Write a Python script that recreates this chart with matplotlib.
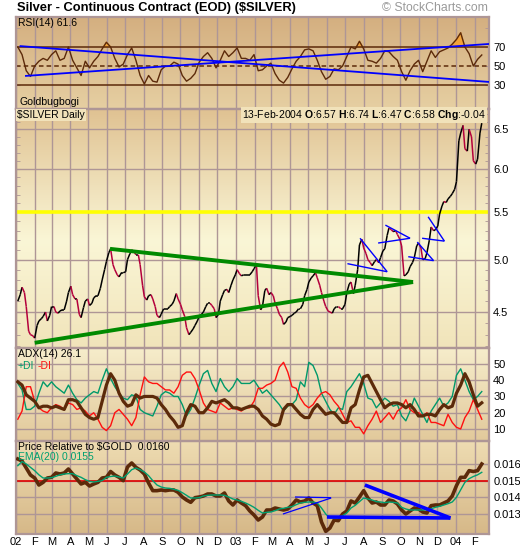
#!/usr/bin/env python3
"""Silver continuous contract chart with RSI, ADX and price relative to gold."""

import matplotlib
matplotlib.use("Agg")

import matplotlib.pyplot as plt
import matplotlib.dates as mdates
import numpy as np
import pandas as pd
from matplotlib.collections import LineCollection
from matplotlib.colors import LinearSegmentedColormap
from matplotlib.ticker import FixedLocator, NullFormatter

plt.rcParams["font.family"] = ["Liberation Sans", "DejaVu Sans"]
plt.rcParams["mathtext.fontset"] = "custom"
plt.rcParams["mathtext.rm"] = "Liberation Sans"
plt.rcParams["mathtext.bf"] = "Liberation Sans:bold"

# values: Fridays 4 Jan 2002 .. 13 Feb 2004,
# the price also on the Tuesdays in between
weeks = pd.date_range("2002-01-04", periods=111, freq="7D")
tuesdays = pd.date_range("2002-01-08", periods=110, freq="7D")

price_fri = [
    4.60, 4.73, 4.55, 4.30, 4.27, 4.42, 4.46, 4.42, 4.55, 4.50,
    4.51, 4.52, 4.68, 4.66, 4.62, 4.45, 4.60, 4.56, 4.63, 4.65,
    4.80, 4.98, 5.11, 4.90, 4.83, 4.87, 5.00, 5.10, 5.05, 4.95,
    4.64, 4.65, 4.62, 4.47, 4.48, 4.53, 4.55, 4.60, 4.62, 4.52,
    4.36, 4.32, 4.38, 4.46, 4.50, 4.58, 4.56, 4.45, 4.60, 4.70,
    4.68, 4.80, 4.90, 4.84, 4.85, 4.85, 4.91, 4.65, 4.55, 4.72,
    4.68, 4.58, 4.48, 4.39, 4.45, 4.47, 4.50, 4.53, 4.65, 4.78,
    4.84, 4.82, 4.68, 4.55, 4.50, 4.53, 4.55, 4.53, 4.68, 4.78,
    4.75, 5.15, 5.12, 5.00, 4.94, 5.00, 5.02, 5.11, 5.33, 5.29,
    5.26, 5.14, 4.85, 4.93, 5.02, 5.17, 5.00, 5.07, 5.34, 5.31,
    5.48, 5.62, 5.65, 5.71, 5.85, 6.45, 6.25, 6.50, 6.10, 6.12, 6.58,
]

price_tue = [
    4.66, 4.68, 4.33, 4.29, 4.38, 4.44, 4.50, 4.47, 4.55, 4.49,
    4.52, 4.60, 4.74, 4.62, 4.48, 4.54, 4.62, 4.58, 4.65, 4.72,
    4.90, 5.07, 4.95, 4.85, 4.87, 4.88, 5.06, 5.08, 5.05, 4.75,
    4.61, 4.66, 4.55, 4.45, 4.53, 4.53, 4.57, 4.67, 4.57, 4.46,
    4.30, 4.35, 4.42, 4.48, 4.55, 4.58, 4.53, 4.48, 4.66, 4.71,
    4.75, 4.85, 4.86, 4.85, 4.85, 4.88, 4.95, 4.52, 4.70, 4.66,
    4.65, 4.53, 4.45, 4.41, 4.46, 4.49, 4.53, 4.57, 4.71, 4.82,
    4.87, 4.75, 4.60, 4.51, 4.49, 4.55, 4.53, 4.57, 4.76, 4.67,
    4.90, 5.21, 5.06, 4.97, 4.98, 4.97, 5.09, 5.25, 5.31, 5.30,
    5.21, 4.84, 4.88, 4.97, 5.14, 5.12, 5.01, 5.20, 5.30, 5.35,
    5.57, 5.61, 5.68, 5.76, 6.35, 6.55, 6.22, 6.40, 6.06, 6.45,
]

rsi = [
    70, 62, 45, 39, 50, 55, 58, 56, 62, 66,
    56, 58, 70, 56, 48, 40, 55, 48, 55, 60,
    68, 75, 70, 58, 49, 52, 62, 69, 56, 40,
    31, 40, 34, 33, 46, 50, 50, 54, 52, 40,
    34, 37, 42, 54, 60, 64, 58, 48, 56, 66,
    60, 64, 69, 58, 58, 56, 62, 45, 46, 50,
    53, 42, 35, 32, 38, 47, 55, 60, 67, 68,
    66, 56, 44, 36, 39, 47, 46, 50, 60, 70,
    68, 76, 68, 56, 55, 53, 58, 66, 65, 60,
    56, 44, 35, 45, 52, 56, 44, 55, 66, 59,
    65, 67, 69, 73, 78, 85, 70, 63, 50, 57, 61.6,
]

adx = [
    39, 37, 31, 29, 27, 23, 24, 24, 23, 24,
    23, 22, 28, 28, 27, 23, 19, 17, 16, 17,
    27, 37, 44, 40, 32, 27, 24, 25, 31, 29,
    30, 30, 30, 29, 25, 22, 18, 15, 11, 12,
    20, 25, 24, 20, 20, 23, 27, 26, 27, 28,
    26, 23, 23, 22, 23, 24, 24, 22, 18, 16,
    13, 12, 13, 22, 25, 25, 22, 19, 17, 17,
    22, 25, 22, 19, 20, 20, 17, 14, 14, 23,
    25, 34, 42, 43, 38, 33, 28, 23, 25, 26,
    26, 25, 23, 25, 22, 18, 18, 19, 19, 18,
    22, 25, 23, 24, 32, 37, 44, 39, 31, 24, 26.1,
]

plus_di = [
    38, 34, 22, 22, 24, 32, 39, 36, 39, 36,
    34, 32, 37, 32, 28, 26, 29, 31, 33, 32,
    40, 47, 41, 36, 32, 29, 28, 31, 30, 22,
    20, 19, 18, 24, 31, 33, 32, 30, 30, 25,
    18, 22, 29, 37, 44, 46, 38, 33, 41, 36,
    33, 36, 41, 38, 38, 38, 40, 36, 32, 34,
    31, 28, 25, 21, 24, 25, 28, 39, 36, 51,
    49, 43, 32, 27, 22, 19, 23, 22, 33, 36,
    40, 44, 38, 29, 28, 23, 26, 29, 27, 24,
    25, 18, 15, 21, 29, 24, 19, 14, 21, 25,
    29, 24, 26, 30, 43, 47, 40, 33, 28, 30, 33,
]

minus_di = [
    16, 21, 36, 36, 27, 23, 21, 20, 23, 25,
    24, 22, 26, 25, 22, 23, 21, 18, 20, 16,
    11, 9, 12, 20, 22, 19, 16, 12, 17, 31,
    42, 39, 38, 38, 36, 34, 34, 32, 36, 43,
    45, 45, 41, 34, 26, 22, 21, 20, 26, 24,
    22, 23, 22, 21, 23, 23, 27, 35, 35, 37,
    38, 40, 48, 51, 45, 36, 35, 29, 25, 23,
    25, 29, 32, 33, 31, 27, 24, 19, 14, 15,
    11, 11, 7, 12, 16, 21, 14, 17, 20, 16,
    21, 23, 28, 22, 20, 20, 18, 20, 14, 14,
    13, 12, 19, 14, 11, 10, 17, 21, 28, 22, 16,
]

rel_gold = [
    0.01630, 0.01618, 0.01576, 0.01534, 0.01516, 0.01474, 0.01490, 0.01516, 0.01520, 0.01546,
    0.01540, 0.01546, 0.01570, 0.01540, 0.01510, 0.01480, 0.01490, 0.01468, 0.01480, 0.01490,
    0.01516, 0.01520, 0.01555, 0.01534, 0.01520, 0.01500, 0.01582, 0.01606, 0.01580, 0.01564,
    0.01540, 0.01486, 0.01440, 0.01440, 0.01444, 0.01440, 0.01444, 0.01444, 0.01430, 0.01402,
    0.01384, 0.01370, 0.01398, 0.01402, 0.01408, 0.01420, 0.01420, 0.01408, 0.01408, 0.01426,
    0.01378, 0.01354, 0.01384, 0.01366, 0.01350, 0.01318, 0.01294, 0.01264, 0.01282, 0.01324,
    0.01324, 0.01336, 0.01330, 0.01324, 0.01330, 0.01354, 0.01384, 0.01372, 0.01378, 0.01396,
    0.01366, 0.01350, 0.01252, 0.01196, 0.01216, 0.01264, 0.01260, 0.01300, 0.01318, 0.01378,
    0.01366, 0.01402, 0.01440, 0.01396, 0.01366, 0.01372, 0.01354, 0.01354, 0.01384, 0.01378,
    0.01360, 0.01324, 0.01300, 0.01318, 0.01336, 0.01330, 0.01312, 0.01306, 0.01350, 0.01354,
    0.01354, 0.01366, 0.01378, 0.01408, 0.01470, 0.01520, 0.01520, 0.01560, 0.01555, 0.01560,
    0.01600,
]

rel_ema = [
    0.01590, 0.01615, 0.01600, 0.01580, 0.01560, 0.01535, 0.01516, 0.01516, 0.01518, 0.01526,
    0.01535, 0.01540, 0.01542, 0.01542, 0.01530, 0.01520, 0.01506, 0.01496, 0.01492, 0.01496,
    0.01500, 0.01520, 0.01525, 0.01528, 0.01522, 0.01516, 0.01540, 0.01566, 0.01576, 0.01566,
    0.01552, 0.01530, 0.01500, 0.01474, 0.01462, 0.01456, 0.01454, 0.01448, 0.01442, 0.01428,
    0.01412, 0.01396, 0.01396, 0.01398, 0.01408, 0.01412, 0.01414, 0.01414, 0.01414, 0.01412,
    0.01402, 0.01390, 0.01384, 0.01376, 0.01366, 0.01354, 0.01340, 0.01322, 0.01306, 0.01310,
    0.01312, 0.01320, 0.01330, 0.01334, 0.01340, 0.01344, 0.01356, 0.01366, 0.01370, 0.01372,
    0.01372, 0.01366, 0.01336, 0.01300, 0.01276, 0.01276, 0.01278, 0.01290, 0.01306, 0.01336,
    0.01352, 0.01374, 0.01396, 0.01390, 0.01384, 0.01374, 0.01372, 0.01368, 0.01372, 0.01370,
    0.01366, 0.01340, 0.01330, 0.01324, 0.01324, 0.01324, 0.01324, 0.01326, 0.01332, 0.01340,
    0.01346, 0.01354, 0.01362, 0.01372, 0.01400, 0.01445, 0.01490, 0.01512, 0.01525, 0.01535,
    0.01550,
]

month_labels = ["02", "F", "M", "A", "M", "J", "J", "A", "S", "O", "N", "D",
                "03", "F", "M", "A", "M", "J", "J", "A", "S", "O", "N", "D",
                "04", "F"]

# hand drawn annotations: ((date, value), (date, value))
green_wedge = [
    (("2002-06-06", 5.11), ("2003-10-22", 4.78)),
    (("2002-02-01", 4.23), ("2003-10-22", 4.78)),
]
blue_pennants = [
    (("2003-07-26", 5.22), ("2003-09-09", 4.88)),
    (("2003-07-05", 4.96), ("2003-09-09", 4.88)),
    (("2003-09-06", 5.36), ("2003-10-17", 5.22)),
    (("2003-08-25", 5.17), ("2003-10-17", 5.22)),
    (("2003-10-29", 5.18), ("2003-11-25", 4.99)),
    (("2003-10-14", 5.03), ("2003-11-25", 4.99)),
    (("2003-11-16", 5.45), ("2003-12-13", 5.19)),
    (("2003-11-06", 5.22), ("2003-12-13", 5.19)),
]
rsi_lines = [
    (("2002-01-07", 71.0), ("2004-02-25", 33.2)),
    (("2002-01-16", 39.5), ("2004-02-25", 73.2)),
]
rel_lines_thick = [
    (("2003-06-01", 0.01282), ("2003-12-23", 0.01276)),
    (("2003-08-03", 0.01474), ("2003-12-23", 0.01276)),
]
rel_lines_thin = [
    (("2003-03-20", 0.01300), ("2003-06-08", 0.01396)),
    (("2003-04-09", 0.01402), ("2003-06-08", 0.01398)),
]

W, H = 520, 551
LEFT, RIGHT = 16, 489
GRID = "#AE9696"
BROWN = "#5C2A0A"
X_LO, X_HI = pd.Timestamp("2002-01-01"), pd.Timestamp("2004-02-25")


def fpos(x, y):
    return x / W, 1 - y / H


def make_panel(fig, top, bottom, stops):
    rect = [LEFT / W, 1 - bottom / H, (RIGHT - LEFT) / W, (bottom - top) / H]
    bg = fig.add_axes(rect, zorder=0)
    cmap = LinearSegmentedColormap.from_list("bg", stops)
    bg.imshow(np.linspace(0, 1, 256).reshape(-1, 1), aspect="auto", cmap=cmap,
              extent=[0, 1, 0, 1], origin="upper")
    bg.axis("off")

    ax = fig.add_axes(rect, zorder=1)
    ax.set_facecolor("none")
    for sp in ax.spines.values():
        sp.set_color(GRID)
        sp.set_linewidth(1.6)
    ax.set_xlim(X_LO, X_HI)
    ax.set_xticks(pd.date_range("2002-01-01", "2004-02-01", freq="MS"))
    ax.grid(axis="x", color=GRID, linewidth=1.0)
    ax.tick_params(axis="x", length=0, labelbottom=False)
    ax.tick_params(axis="y", which="both", direction="in", length=3, color=GRID,
                   left=True, right=True, labelleft=False, labelright=True,
                   labelsize=8, pad=3)
    ax.set_axisbelow(True)
    return ax


def draw_segments(ax, segments, color, lw):
    for (d0, v0), (d1, v1) in segments:
        ax.plot([pd.Timestamp(d0), pd.Timestamp(d1)], [v0, v1], color=color,
                linewidth=lw, solid_capstyle="butt", zorder=4)


def main():
    fig = plt.figure(figsize=(W / 100, H / 100), dpi=100)
    fig.patch.set_facecolor("white")

    # --- RSI ---
    ax_rsi = make_panel(fig, 17, 109, [(0, "#D4AF80"), (1, "#E6CFA2")])
    r = np.array(rsi)
    ax_rsi.fill_between(weeks, 70, r, where=r > 70, interpolate=True,
                        color="#F2A33A", zorder=2)
    ax_rsi.axhline(70, color=BROWN, linewidth=1.1, zorder=2)
    ax_rsi.axhline(30, color=BROWN, linewidth=1.1, zorder=2)
    ax_rsi.axhline(50, color=BROWN, linewidth=1.1, linestyle=(0, (3, 2)), zorder=2)
    ax_rsi.plot(weeks, r, color=BROWN, linewidth=1.0, zorder=3)
    draw_segments(ax_rsi, rsi_lines, "#0000FF", 1.3)
    ax_rsi.set_ylim(4.7, 101.6)
    ax_rsi.set_yticks([30, 50, 70])
    ax_rsi.yaxis.set_minor_locator(FixedLocator([90]))

    # --- price ---
    ax_p = make_panel(fig, 109, 348, [(0, "#E0C292"), (0.55, "#FAF6D6"),
                                      (1, "#F1E4BA")])
    ax_p.set_yscale("log")
    ax_p.set_ylim(4.186, 6.77)
    ax_p.set_yticks([4.5, 5.0, 5.5, 6.0, 6.5])
    ax_p.set_yticklabels(["4.5", "5.0", "5.5", "6.0", "6.5"])
    ax_p.yaxis.set_minor_locator(FixedLocator(
        [4.2, 4.3, 4.4, 4.6, 4.7, 4.8, 4.9, 5.1, 5.2, 5.3, 5.4, 5.6, 5.7,
         5.8, 5.9, 6.1, 6.2, 6.3, 6.4, 6.6, 6.7]))
    ax_p.yaxis.set_minor_formatter(NullFormatter())
    for level in [4.5, 5.0, 6.0, 6.5]:
        ax_p.axhline(level, color=GRID, linewidth=1.0, zorder=1)
    ax_p.axhline(5.5, color="#FFFF00", linewidth=2.6, zorder=2)

    close = pd.concat([pd.Series(price_fri, index=weeks),
                       pd.Series(price_tue, index=tuesdays)]).sort_index()
    pts = np.column_stack([mdates.date2num(close.index), close.values])
    segs = np.stack([pts[:-1], pts[1:]], axis=1)
    cols = np.where(np.diff(close.values) >= 0, "black", "#B4003C")
    ax_p.add_collection(LineCollection(segs, colors=cols, linewidths=1.1, zorder=3))
    draw_segments(ax_p, green_wedge, "#008A00", 2.8)
    draw_segments(ax_p, blue_pennants, "#0000FF", 1.0)

    # --- ADX ---
    ax_adx = make_panel(fig, 348, 441, [(0, "#F6EDCB"), (1, "#E2C99B")])
    ax_adx.set_ylim(2.6, 59.8)
    ax_adx.set_yticks([10, 20, 30, 40, 50])
    ax_adx.grid(axis="y", color=GRID, linewidth=1.0)
    ax_adx.plot(weeks, plus_di, color="#00996A", linewidth=1.0, zorder=2)
    ax_adx.plot(weeks, minus_di, color="#FF1010", linewidth=1.0, zorder=2)
    ax_adx.plot(weeks, adx, color=BROWN, linewidth=2.3, zorder=3)

    # --- price relative to gold ---
    ax_rel = make_panel(fig, 441, 534, [(0, "#EEDCB2"), (1, "#D6B888")])
    ax_rel.set_ylim(0.0118, 0.01738)
    ax_rel.set_yticks([0.013, 0.014, 0.015, 0.016])
    ax_rel.set_yticklabels(["0.013", "0.014", "0.015", "0.016"])
    ax_rel.grid(axis="y", color=GRID, linewidth=1.0)
    ax_rel.axhline(0.015, color="#E00000", linewidth=1.2, zorder=2)
    ax_rel.plot(weeks, rel_gold, color=BROWN, linewidth=2.6, zorder=3)
    ax_rel.plot(weeks, rel_ema, color="#00A070", linewidth=1.0, zorder=4)
    draw_segments(ax_rel, rel_lines_thick, "#0000FF", 2.6)
    draw_segments(ax_rel, rel_lines_thin, "#0000FF", 0.9)
    ax_rel.tick_params(axis="x", labelbottom=True, labelsize=8, pad=2)
    ax_rel.set_xticklabels(month_labels)

    # --- texts ---
    fig.text(*fpos(17, 8), "Silver - Continuous Contract (EOD) (\\$SILVER)",
             fontsize=9.3, fontweight="bold", va="center")
    fig.text(*fpos(488, 8), "\u00a9 StockCharts.com", fontsize=8.8,
             color="#9A9A9A", ha="right", va="center")
    fig.text(*fpos(18, 23), "RSI(14) 61.6", fontsize=7.5, va="center")
    fig.text(*fpos(20, 102), "Goldbugbogi", fontsize=7.6, va="center")
    fig.text(*fpos(17, 115), "\\$SILVER Daily", fontsize=7.5, va="center",
             bbox=dict(facecolor="#F1E2BA", edgecolor="none", pad=0.6))
    fig.text(*fpos(486, 115),
             r"13-Feb-2004 $\mathbf{O}$:6.57 $\mathbf{H}$:6.74 $\mathbf{L}$:6.47 "
             r"$\mathbf{C}$:6.58 $\mathbf{Chg}$:-0.04",
             fontsize=7.5, ha="right", va="center",
             bbox=dict(facecolor="#F1E2BA", edgecolor="none", pad=0.6))
    fig.text(*fpos(18, 354), "ADX(14) 26.1", fontsize=7.5, va="center")
    fig.text(*fpos(18, 366), "+DI", fontsize=7.5, color="#00996A", va="center")
    fig.text(*fpos(38, 366), "-DI", fontsize=7.5, color="#FF1010", va="center")
    fig.text(*fpos(18, 447), "Price Relative to \\$GOLD  0.0160", fontsize=7.5,
             va="center")
    fig.text(*fpos(18, 457), "EMA(20) 0.0155", fontsize=7.5, color="#00A070",
             va="center")

    fig.savefig("out.png", dpi=100)
    plt.close(fig)


if __name__ == "__main__":
    main()
